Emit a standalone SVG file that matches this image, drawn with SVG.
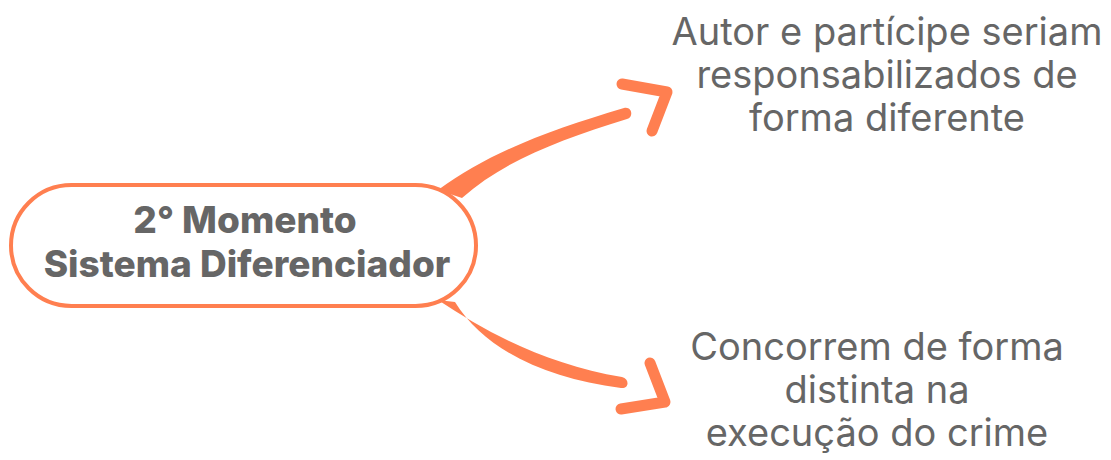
<svg xmlns="http://www.w3.org/2000/svg" width="1111" height="460" viewBox="0 0 1111 460">
<style>
.lbl{font-family:Inter,"Noto Sans",sans-serif;font-size:38px;fill:#666666;text-anchor:middle}
.main{font-family:Inter,"Noto Sans",sans-serif;font-size:37px;font-weight:800;fill:#666666;text-anchor:middle}
.shaft{fill:#FF7F50;stroke:none}
.head{fill:none;stroke:#FF7F50;stroke-width:11;stroke-linecap:round;stroke-linejoin:round}
</style>
<rect width="1111" height="460" fill="#ffffff"/>
<g id="connectors">
<path class="shaft" d="M438,190 C490,152 550,130 624,108 C632,106 634,117 627,119 C560,140 505,160 462,198 Z"/>
<polyline class="head" points="622,84 667,92 652,131"/>
<path class="shaft" d="M438,300 C490,335 550,365 622,377 C630,379 629,389 621,388 C545,378 485,350 455,302 Z"/>
<polyline class="head" points="650,363 665,402 621,409"/>
</g>
<g id="node-main">
<rect x="11" y="185" width="465" height="121" rx="60.5" fill="#ffffff" stroke="#FF7F50" stroke-width="4"/>
<text class="main" x="245" y="233">2° Momento</text>
<text class="main" x="247" y="277">Sistema Diferenciador</text>
</g>
<g id="node-top">
<text class="lbl" x="887" y="45">Autor e partícipe seriam</text>
<text class="lbl" x="887" y="88">responsabilizados de</text>
<text class="lbl" x="887" y="131">forma diferente</text>
</g>
<g id="node-bottom">
<text class="lbl" x="877" y="360">Concorrem de forma</text>
<text class="lbl" x="877" y="403">distinta na</text>
<text class="lbl" x="877" y="446">execução do crime</text>
</g>
</svg>
